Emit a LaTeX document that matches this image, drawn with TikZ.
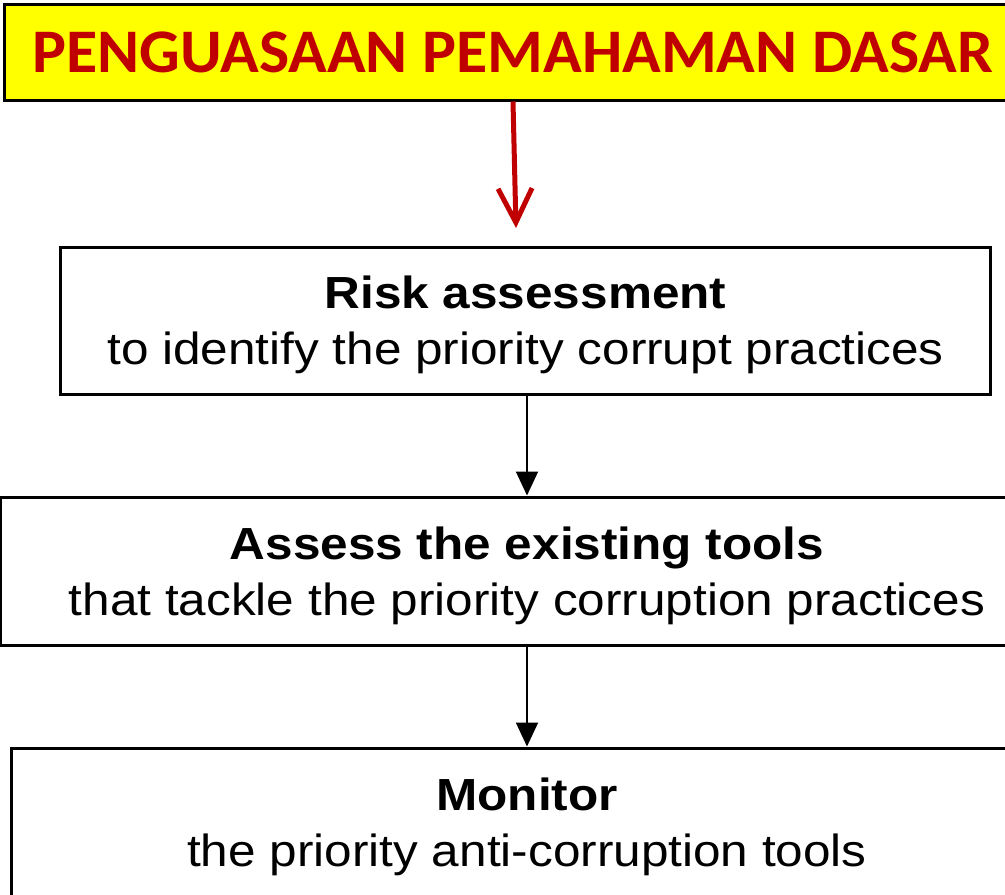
\documentclass[tikz,border=0pt]{standalone}
\usepackage{fontspec}
\setmainfont{Liberation Sans}[FakeStretch=1.1]
\newfontfamily\bannerfont{Carlito}[FakeStretch=1.03]
\usetikzlibrary{arrows.meta}
\definecolor{bannerred}{HTML}{C00000}
\definecolor{banneryellow}{HTML}{FFFF00}
\tikzset{
  stepbox/.style={draw=black, line width=3bp, fill=white, rectangle, inner sep=0pt,
    align=center, font=\fontsize{45bp}{56bp}\selectfont, text height=98bp, text depth=10bp},
  flowarrow/.style={draw=black, line width=2bp, -{Triangle[width=22bp,length=24bp]}},
  redarrow/.style={draw=bannerred, line width=5bp, -{Straight Barb[width=34bp,length=34bp,line width=5bp]}},
}
\begin{document}
\begin{tikzpicture}[x=1bp,y=-1bp]
\useasboundingbox (0,0) rectangle (1005,895);
\clip (0,0) rectangle (1005,895);
\node[draw=black, line width=3bp, fill=banneryellow, inner sep=0pt,
  minimum width=1016bp, minimum height=95bp,
  font=\bannerfont\bfseries\fontsize{62bp}{70bp}\selectfont, text=bannerred]
  (banner) at (513,52.5) {PENGUASAAN PEMAHAMAN DASAR};
\coordinate (redtip) at (516,228);
\node[stepbox, minimum width=929bp, minimum height=147bp] (box1) at (525.5,320.5)
  {\textbf{Risk assessment}\\to identify the priority corrupt practices};
\node[stepbox, minimum width=1052bp, minimum height=148bp] (box2) at (527,571)
  {\textbf{Assess the existing tools}\\that tackle the priority corruption practices};
\node[stepbox, minimum width=1030bp, minimum height=148bp] (box3) at (527,822)
  {\textbf{Monitor}\\the priority anti-corruption tools};
\draw[redarrow] (banner.south) -- (redtip);
\draw[flowarrow] (box1.south -| box2.north) -- (box2.north);
\draw[flowarrow] (box2.south) -- (box3.north);
\end{tikzpicture}
\end{document}
